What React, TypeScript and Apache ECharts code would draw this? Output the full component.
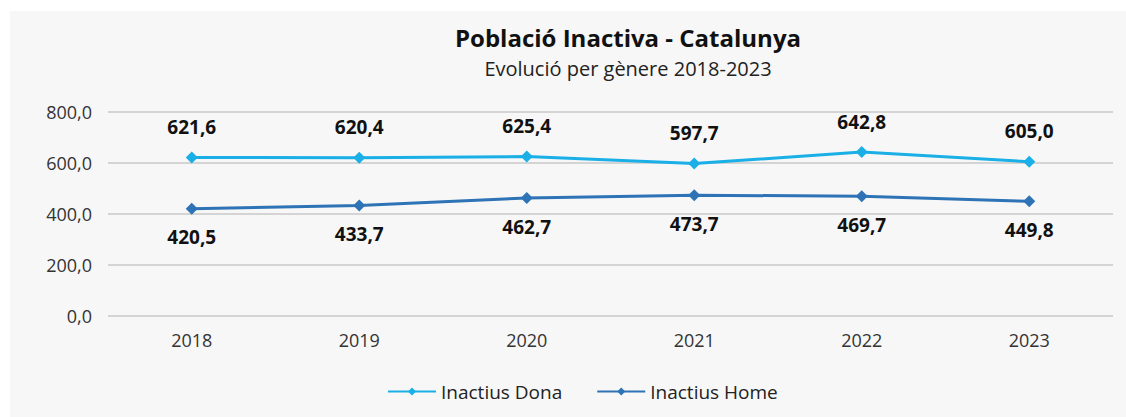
import React, { useEffect, useRef } from "react";
import * as echarts from "echarts";

const years = ["2018", "2019", "2020", "2021", "2022", "2023"];
const dona = [621.6, 620.4, 625.4, 597.7, 642.8, 605.0];
const home = [420.5, 433.7, 462.7, 473.7, 469.7, 449.8];
const yTicks = [0, 200, 400, 600, 800];

const fmt = (v: number) => v.toFixed(1).replace(".", ",");
const FONT = "'Open Sans', 'Noto Sans', sans-serif";

export default function App() {
  const ref = useRef<HTMLDivElement>(null);
  useEffect(() => {
    document.body.style.margin = "0";
    const chart = echarts.init(ref.current!, null, { renderer: "svg" });
    chart.setOption({
      animation: false,
      backgroundColor: "#ffffff",
      textStyle: { fontFamily: FONT },
      graphic: [
        {
          type: "rect",
          shape: { x: 10, y: 11, width: 1116, height: 406 },
          style: { fill: "#f7f7f7" },
          z: -10,
          silent: true,
        },
      ],
      title: [
        {
          text: "Població Inactiva - Catalunya",
          left: 628,
          textAlign: "center",
          top: 23,
          padding: 0,
          textStyle: { fontFamily: FONT, fontSize: 24, lineHeight: 28, fontWeight: "bold", color: "#111" },
        },
        {
          text: "Evolució per gènere 2018-2023",
          left: 628,
          textAlign: "center",
          top: 56,
          padding: 0,
          textStyle: { fontFamily: FONT, fontSize: 20, lineHeight: 24, fontWeight: "normal", color: "#222" },
        },
      ],
      legend: {
        bottom: 11,
        left: 382,
        itemWidth: 48,
        itemHeight: 10,
        itemGap: 34,
        textStyle: { fontFamily: FONT, fontSize: 19, color: "#222" },
        data: ["Inactius Dona", "Inactius Home"],
      },
      grid: { left: 108, right: 13, top: 112, bottom: 101 },
      xAxis: {
        type: "category",
        data: years,
        boundaryGap: true,
        axisLine: { show: false },
        axisTick: { show: false },
        axisLabel: { fontFamily: FONT, fontSize: 18, color: "#333", margin: 15 },
      },
      yAxis: {
        type: "value",
        min: yTicks[0],
        max: yTicks[yTicks.length - 1],
        interval: 200,
        axisLine: { show: false },
        axisTick: { show: false },
        splitLine: { lineStyle: { color: "#d4d4d4", width: 2 } },
        axisLabel: {
          fontFamily: FONT,
          fontSize: 18,
          color: "#333",
          margin: 16,
          formatter: (v: number) => fmt(v),
        },
      },
      series: [
        {
          name: "Inactius Dona",
          type: "line",
          data: dona,
          symbol: "diamond",
          symbolSize: 12,
          itemStyle: { color: "#1aafe6" },
          lineStyle: { color: "#1aafe6", width: 3 },
          label: {
            show: true,
            position: "top",
            distance: 15,
            formatter: (p: any) => fmt(p.value),
            fontFamily: FONT,
            fontSize: 19,
            fontWeight: "bold",
            color: "#111",
          },
        },
        {
          name: "Inactius Home",
          type: "line",
          data: home,
          symbol: "diamond",
          symbolSize: 12,
          itemStyle: { color: "#2e73b5" },
          lineStyle: { color: "#2e73b5", width: 3 },
          label: {
            show: true,
            position: "bottom",
            distance: 13,
            formatter: (p: any) => fmt(p.value),
            fontFamily: FONT,
            fontSize: 19,
            fontWeight: "bold",
            color: "#111",
          },
        },
      ],
    });
    return () => chart.dispose();
  }, []);
  return <div ref={ref} style={{ width: 1126, height: 417 }} />;
}
